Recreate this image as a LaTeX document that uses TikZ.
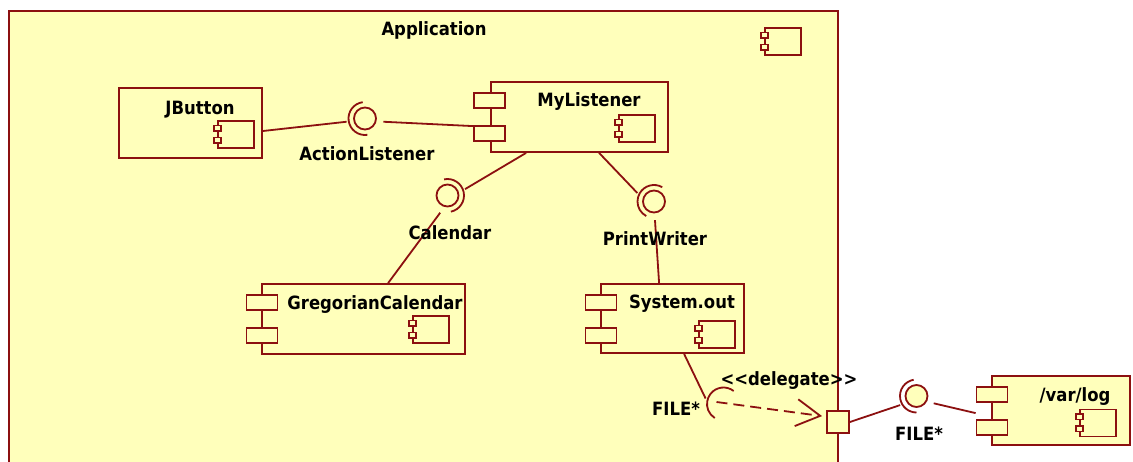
\documentclass[tikz,border=0pt]{standalone}
\usepackage{fontspec}
\IfFontExistsTF{DejaVu Sans Condensed}{\setmainfont{DejaVu Sans Condensed}}{\setmainfont{Liberation Sans}}
\usetikzlibrary{arrows.meta}
\definecolor{umlred}{RGB}{140,16,16}
\definecolor{umlfill}{RGB}{255,255,187}
\tikzset{
 ln/.style={draw=umlred, line width=1.8pt},
 compbox/.style={ln, fill=umlfill, rectangle, inner sep=0pt},
 port/.style={ln, fill=umlfill, rectangle, inner sep=0pt, minimum width=31pt, minimum height=15pt},
 lbl/.style={font=\fontsize{18.3}{20}\selectfont\bfseries, inner sep=0pt, anchor=base, text=black},
 ball/.style={ln, fill=umlfill, circle, inner sep=0pt, minimum size=22pt},
 sockclip/.style={circle, inner sep=0pt, minimum size=37pt},
 wire/.style={draw=umlred, line width=1.8pt},
 iconrect/.style={draw=umlred, line width=1.5pt, fill=umlfill},
}
\newcommand\cicon[2]{%
 \draw[iconrect] (#1,#2) rectangle ++(36,27);
 \draw[iconrect] (#1-4,#2+4.5) rectangle ++(7,5.5);
 \draw[iconrect] (#1-4,#2+16.5) rectangle ++(7,5.5);
}
\newcommand\sockarc[3]{% node, start, end (visual degrees)
 \draw[wire] (#1.center) ++(#2:16.5pt) arc[start angle=#2, end angle=#3, radius=16.5pt];
}
\begin{document}
\begin{tikzpicture}[x=1pt,y=-1pt]
\useasboundingbox (0,0) rectangle (1133,461);
\clip (0,0) rectangle (1133,461);
\fill[white] (0,0) rectangle (1133,461);

% Application container
\node[compbox, anchor=north west, minimum width=829pt, minimum height=470pt] (app) at (8,10) {};
\node[lbl] (apptitle) at (434,35) {Application};
\cicon{765}{28}

% JButton
\node[compbox, minimum width=143pt, minimum height=70pt] (jb) at (190.5,123) {};
\node[lbl] (jbl) at (200,114.3) {JButton};
\cicon{218}{121}

% MyListener
\node[compbox, minimum width=177pt, minimum height=70pt] (ml) at (579.5,117) {};
\node[port] (mlP1) at (489.5,100.5) {};
\node[port] (mlP2) at (489.5,133.5) {};
\node[lbl] (mll) at (589,106.7) {MyListener};
\cicon{619}{115}

% GregorianCalendar
\node[compbox, minimum width=203pt, minimum height=70pt] (gc) at (363.5,319) {};
\node[port] (gcP1) at (262,302.5) {};
\node[port] (gcP2) at (262,335.5) {};
\node[lbl] (gcl) at (375,309.3) {GregorianCalendar};
\cicon{413}{316}

% System.out
\node[compbox, minimum width=143pt, minimum height=69pt] (so) at (672.5,318.5) {};
\node[port] (soP1) at (601,302.5) {};
\node[port] (soP2) at (601,335.5) {};
\node[lbl] (sol) at (682,308.7) {System.out};
\cicon{699}{321}

% /var/log
\node[compbox, minimum width=138pt, minimum height=69pt] (vl) at (1061,410.5) {};
\node[port] (vlP1) at (992,394.5) {};
\node[port] (vlP2) at (992,427.5) {};
\node[lbl] (vll) at (1075,401.7) {/var/log};
\cicon{1080}{409.5}

% boundary port
\node[compbox, minimum size=22pt] (prt) at (838,422) {};

% lollipops
\node[ball] (alB) at (365,118.5) {};
\node[sockclip] (alS) at (365,118.5) {};
\sockarc{alB}{98}{278}
\node[ball] (calB) at (447.5,195.5) {};
\node[sockclip] (calS) at (447.5,195.5) {};
\sockarc{calB}{-78}{102}
\node[ball] (pwB) at (654,201.5) {};
\node[sockclip] (pwS) at (654,201.5) {};
\sockarc{pwB}{60}{242}
\node[sockclip] (delS) at (723.5,404) {};
\sockarc{delS}{52}{238}
\node[ball] (fB) at (916.5,396) {};
\node[sockclip] (fS) at (916.5,396) {};
\sockarc{fB}{100}{270}

% connectors
\draw[wire] ([yshift=-8pt]jb.east) -- (alS.190);
\draw[wire] (alS.-10) -- ([yshift=-1pt]mlP2.north west);
\draw[wire] ([xshift=36pt]ml.south west) -- (calS.20);
\draw[wire] (calS.247) -- ([xshift=127pt]gc.north west);
\draw[wire] ([xshift=109pt]ml.south west) -- (pwS.153);
\draw[wire] (pwS.273) -- ([xshift=59pt]so.north west);
\draw[wire] ([xshift=84pt]so.south west) -- (delS.163);
\draw[wire, dash pattern=on 11pt off 6pt, -{Straight Barb[length=24pt,width=27pt]}]
  ([xshift=-7pt,yshift=2pt]delS.center) -- ([xshift=-4pt,yshift=-6pt]prt.north west);
\draw[wire] (prt.east) -- (fS.209);
\draw[wire] (fS.-23) -- ([yshift=6pt]vlP2.north west);

% labels
\node[lbl] (all) at (367,160.7) {ActionListener};
\node[lbl] (call) at (450,239.3) {Calendar};
\node[lbl] (pwl) at (655,245) {PrintWriter};
\node[lbl] (f1l) at (676,415) {FILE*};
\node[lbl] (dell) at (789,385) {<{}<delegate>{}>};
\node[lbl] (f2l) at (919,440) {FILE*};
\end{tikzpicture}
\end{document}
